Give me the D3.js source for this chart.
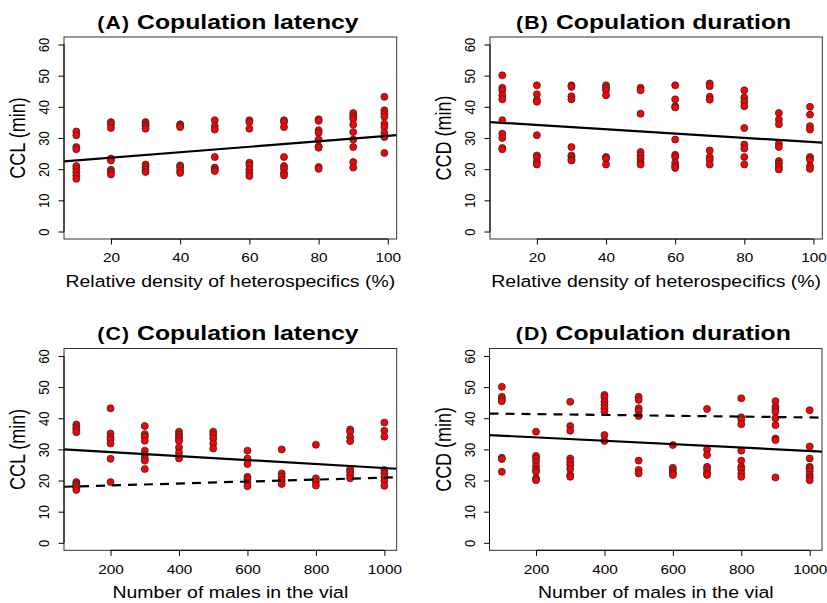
<!DOCTYPE html>
<html>
<head>
<meta charset="utf-8">
<script src="https://cdn.jsdelivr.net/npm/d3@7"></script>
<style>
  html, body { margin: 0; padding: 0; background: #fff; }
  svg { display: block; font-family: "Liberation Sans", Arial, Helvetica, sans-serif; }
</style>
</head>
<body>
<svg id="chart" width="827" height="603"></svg>
<script>
// ---------------- DATA ----------------
const densityLevels = [10, 20, 30, 40, 50, 60, 70, 80, 90, 99];
const densityTicks = [20, 40, 60, 80, 100];
const malesLevels = [100, 200, 300, 400, 500, 600, 700, 800, 900, 1000];
const malesTicks = [200, 400, 600, 800, 1000];
const yTicks = [0, 10, 20, 30, 40, 50, 60];

// (A) CCL vs relative density of heterospecifics
const cclDensity = [
  [32.1, 30.9, 27.1, 26.4, 21, 20.1, 19.1, 18, 16.9],
  [35.1, 34.4, 33.2, 23.4, 22.8, 19.8, 19.1, 18.3],
  [35.1, 34.4, 33.8, 33, 21.5, 20.7, 19.9, 19.1],
  [34.4, 34, 33.5, 21.2, 20.7, 19.6, 18.8],
  [35.7, 33.8, 32.7, 23.9, 20.5, 19.9, 19.4],
  [35.7, 35.1, 33, 22.1, 21.3, 19.9, 18.8, 17.8],
  [35.7, 35.1, 33.5, 23.9, 21, 20.1, 18.8, 18],
  [36, 35.5, 32.5, 31.7, 29.5, 27.3, 26.9, 20.7, 20.1],
  [38, 37, 36.2, 34.3, 31.9, 29.5, 27.1, 22.3, 20.5],
  [43.2, 38.9, 37.8, 36.8, 34.6, 33.5, 31.6, 30.3, 25.2]
];
// (B) CCD vs relative density of heterospecifics
const ccdDensity = [
  [50.1, 46.1, 45.3, 43.7, 42.4, 35.7, 31.4, 30, 26.8, 26.4],
  [46.9, 44, 42.1, 41.6, 30.9, 24.4, 23.7, 22.3, 21.5],
  [46.9, 46.4, 43.4, 42.4, 27.1, 24.4, 23.9, 23.1, 22.8],
  [46.9, 46.2, 45.3, 43.7, 23.9, 23.4, 21.5],
  [46.1, 45.3, 37.8, 25.5, 24.4, 23.4, 22.3, 21.5],
  [46.9, 42.4, 40.2, 39.8, 29.5, 24.6, 23.9, 22, 21, 20.4],
  [47.5, 46.6, 43.2, 42.3, 26, 23.9, 23, 21.5],
  [45.3, 43, 41.6, 40.2, 33.2, 27.9, 26.6, 23.9, 21.5],
  [38, 35.9, 34.4, 28.2, 27.1, 22.6, 21.8, 20.7, 19.9],
  [40, 37.5, 33.8, 32.7, 23.9, 23, 21, 20.1]
];
// (C) CCL vs number of males in the vial
const cclMales = [
  [38, 37.1, 36.4, 35.5, 19.5, 19, 18.5, 17.8, 17],
  [43.2, 35.1, 33.9, 33.2, 31.9, 27, 19.5],
  [37.5, 34.9, 34.1, 32.8, 29.6, 28.2, 27.1, 26.4, 23.7],
  [35.7, 34.8, 34.1, 33.4, 32.7, 30.6, 29, 27.1],
  [35.7, 34.8, 33.5, 31.9, 30.3],
  [29.6, 27.1, 25.3, 21.2, 20.4, 19.3, 18.2],
  [30, 22.3, 21.2, 20.1, 18.9],
  [31.5, 20.7, 19.6, 18.4],
  [36.4, 35.7, 33.9, 32.7, 23.6, 22.8, 21.8, 20.7],
  [38.6, 36, 34.1, 23.4, 22.3, 21.2, 19.9, 18.3]
];
// (D) CCD vs number of males in the vial
const ccdMales = [
  [50.1, 46.9, 46.2, 45.5, 27.3, 26.9, 22.8],
  [35.7, 27.9, 27.1, 26, 24.6, 23.6, 22.8, 20.7, 20.1],
  [45.3, 37.5, 36, 27.1, 26, 25, 23.7, 21.8, 21.2],
  [47.5, 46.7, 45.3, 44.3, 43.2, 42.1, 34.6, 32.7],
  [46.9, 45.9, 43.2, 42.3, 40.7, 26.4, 23.4, 22.3],
  [31.4, 24.1, 23.4, 22.5, 21.8],
  [43, 30, 28.2, 24.4, 23.6, 22.5, 21.8],
  [46.4, 40.3, 39.6, 38.1, 29.6, 26.4, 24.4, 23.6, 22.3, 21.2],
  [45.5, 43.7, 42.9, 42.1, 40, 37.8, 33.5, 33, 21],
  [42.6, 30.9, 27.1, 24.4, 23.9, 23, 21.8, 21, 20.1]
];
// fitted lines [intercept, slope]
const fitA = [21.94, 0.0874];
const fitB = [35.54, -0.0687];
const fitCsolid = [30.4, -0.00638];
const fitCdashed = [17.8, 0.00313];
const fitDsolid = [34.95, -0.00545];
const fitDdashed = [41.6, -0.00134];

// ---------------- LAYOUT ----------------
const S = 1.18; // horizontal text stretch of the reference
const svg = d3.select("#chart");

const panels = [
  { tag: "(A)", title: "Copulation latency", ylab: "CCL (min)", xlab: "Relative density of heterospecifics (%)",
    levels: densityLevels, values: cclDensity, ticks: densityTicks, fits: [[fitA, false]],
    box: [64, 37, 396.7, 239] },
  { tag: "(B)", title: "Copulation duration", ylab: "CCD (min)", xlab: "Relative density of heterospecifics (%)",
    levels: densityLevels, values: ccdDensity, ticks: densityTicks, fits: [[fitB, false]],
    box: [490, 37, 822.3, 239] },
  { tag: "(C)", title: "Copulation latency", ylab: "CCL (min)", xlab: "Number of males in the vial",
    levels: malesLevels, values: cclMales, ticks: malesTicks, fits: [[fitCsolid, false], [fitCdashed, true]],
    box: [64, 348.5, 396.7, 550.3] },
  { tag: "(D)", title: "Copulation duration", ylab: "CCD (min)", xlab: "Number of males in the vial",
    levels: malesLevels, values: ccdMales, ticks: malesTicks, fits: [[fitDsolid, false], [fitDdashed, true]],
    box: [489.5, 348.5, 822, 550.3] }
];

function rExtend(lo, hi) { const d = (hi - lo) * 0.04; return [lo - d, hi + d]; }

function stretchText(parent, x, y, str, size, rotate, weight) {
  const g = parent.append("g")
    .attr("transform", `translate(${x},${y}) scale(${S},1)` + (rotate ? " rotate(-90)" : ""));
  return g.append("text")
    .attr("text-anchor", "middle")
    .attr("font-size", size)
    .attr("font-weight", weight || "normal")
    .attr("fill", "#000")
    .text(str);
}

panels.forEach(p => {
  const [x0, y0, x1, y1] = p.box;
  const x = d3.scaleLinear().domain(rExtend(d3.min(p.levels), d3.max(p.levels))).range([x0, x1]);
  const y = d3.scaleLinear().domain(rExtend(0, 60)).range([y1, y0]);
  const g = svg.append("g");

  const cid = "clip" + p.tag.replace(/[()]/g, "");
  svg.append("clipPath").attr("id", cid).append("rect")
    .attr("x", x0).attr("y", y0).attr("width", x1 - x0).attr("height", y1 - y0);

  // points
  const pts = [];
  p.levels.forEach((lv, i) => p.values[i].forEach(v => pts.push([lv, v])));
  g.append("g").selectAll("circle").data(pts).join("circle")
    .attr("cx", d => x(d[0])).attr("cy", d => y(d[1])).attr("r", 3.5)
    .attr("fill", "#ff0000").attr("stroke", "#2a2a2a").attr("stroke-width", 0.8);

  // fitted lines
  const dom = x.domain();
  p.fits.forEach(([coef, dashed]) => {
    g.append("line")
      .attr("clip-path", `url(#${cid})`)
      .attr("x1", x(dom[0])).attr("y1", y(coef[0] + coef[1] * dom[0]))
      .attr("x2", x(dom[1])).attr("y2", y(coef[0] + coef[1] * dom[1]))
      .attr("stroke", "#000").attr("stroke-width", 2.2)
      .attr("stroke-dasharray", dashed ? "9,7" : null);
  });

  // box
  g.append("rect").attr("x", x0).attr("y", y0).attr("width", x1 - x0).attr("height", y1 - y0)
    .attr("fill", "none").attr("stroke", "#333").attr("stroke-width", 1);

  // x axis
  const xa = g.append("g").attr("transform", `translate(0,${y1})`)
    .call(d3.axisBottom(x).tickValues(p.ticks).tickSizeInner(5.5).tickSizeOuter(0).tickFormat(d3.format("d")));
  xa.select(".domain").remove();
  xa.selectAll(".tick line").attr("stroke", "#000");
  xa.selectAll(".tick text").attr("font-size", 13).attr("font-family", null)
    .attr("y", 0).attr("dy", 0).attr("transform", `translate(0,23.4) scale(${S},1)`).attr("fill", "#000");
  xa.append("line").attr("x1", x(p.ticks[0])).attr("x2", x(p.ticks[p.ticks.length - 1]))
    .attr("stroke", "#000");

  // y axis
  const ya = g.append("g").attr("transform", `translate(${x0},0)`)
    .call(d3.axisLeft(y).tickValues(yTicks).tickSizeInner(5.5).tickSizeOuter(0).tickFormat(d3.format("d")));
  ya.select(".domain").remove();
  ya.selectAll(".tick line").attr("stroke", "#000");
  ya.selectAll(".tick text").attr("font-size", 13).attr("font-family", null)
    .attr("x", 0).attr("dy", 0).attr("text-anchor", "middle")
    .attr("transform", `translate(-14.7,0) scale(${S},1) rotate(-90)`).attr("fill", "#000");
  ya.append("line").attr("y1", y(yTicks[0])).attr("y2", y(yTicks[yTicks.length - 1]))
    .attr("stroke", "#000");

  // axis titles
  const cx = (x0 + x1) / 2, cy = (y0 + y1) / 2;
  stretchText(g, cx, y1 + 48, p.xlab, 16.5, false);
  stretchText(g, x0 - 39, cy, p.ylab, 18, true);

  // main title
  const t = stretchText(g, cx - 2.5, y0 - 8.5, "", 21, false, "bold");
  t.append("tspan").attr("font-size", 18).attr("letter-spacing", 1).text(p.tag);
  t.append("tspan").attr("font-size", 21).text(" " + p.title);
});
</script>
</body>
</html>
